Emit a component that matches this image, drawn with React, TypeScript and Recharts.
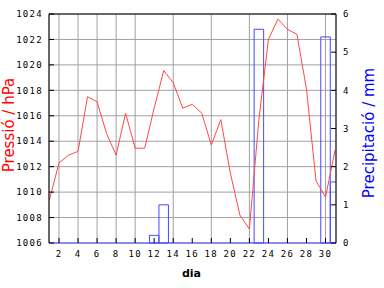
import { Bar, CartesianGrid, ComposedChart, Label, Line, XAxis, YAxis } from 'recharts';

const days = [1, 2, 3, 4, 5, 6, 7, 8, 9, 10, 11, 12, 13, 14, 15, 16, 17, 18, 19, 20, 21, 22, 23, 24, 25, 26, 27, 28, 29, 30, 31];
const pressure = [
  1009.4, 1012.3, 1012.9, 1013.2, 1017.5, 1017.1, 1014.6, 1012.9, 1016.2, 1013.45, 1013.45, 1016.6, 1019.55, 1018.6, 1016.6, 1016.9,
  1016.2, 1013.7, 1015.7, 1011.5, 1008.2, 1007.1, 1015.7, 1022.0, 1023.6, 1022.8, 1022.4, 1018.1, 1010.9, 1009.6, 1013.3,
];
const rain = [0, 0, 0, 0, 0, 0, 0, 0, 0, 0, 0, 0.2, 1.0, 0, 0, 0, 0, 0, 0, 0, 0, 0, 5.6, 0, 0, 0, 0, 0, 0, 5.4, 1.6];
const dayTicks = [2, 4, 6, 8, 10, 12, 14, 16, 18, 20, 22, 24, 26, 28, 30];
const pressureTicks = [1006, 1008, 1010, 1012, 1014, 1016, 1018, 1020, 1022, 1024];
const rainTicks = [0, 1, 2, 3, 4, 5, 6];

const data = days.map((day, i) => ({ day, pres: pressure[i], rain: rain[i] }));

const tickFont = { fill: '#000', fontSize: 9, fontFamily: 'DejaVu Sans Mono', letterSpacing: 1.3 };
const labelFont = { fontFamily: 'DejaVu Sans', fontSize: 15 };

export default function App() {
  return (
    <div style={{ position: 'absolute', left: 0, top: 0, width: 384, height: 288, background: '#fff' }}>
      <ComposedChart width={384} height={288} data={data} margin={{ top: 0, right: 0, bottom: 0, left: 0 }}>
        <CartesianGrid xAxisId="b" yAxisId="p" stroke="#a0a0a0" />
        <XAxis
          xAxisId="b"
          dataKey="day"
          type="number"
          domain={[0.95, 31.1]}
          ticks={dayTicks}
          allowDataOverflow
          height={45}
          tickSize={-5}
          tickMargin={13}
          axisLine={{ stroke: '#4848ff' }}
          tickLine={{ stroke: '#000' }}
          tick={tickFont}
        >
          <Label
            content={({ viewBox }: any) => (
              <text x={viewBox.x + viewBox.width / 2 - 1} y={276.5} textAnchor="middle" fontFamily="DejaVu Sans" fontWeight="bold" fontSize={11} fill="#000">
                dia
              </text>
            )}
          />
        </XAxis>
        <XAxis
          xAxisId="t"
          dataKey="day"
          type="number"
          orientation="top"
          domain={[0.95, 31.1]}
          ticks={dayTicks}
          allowDataOverflow
          height={14}
          tickSize={-5}
          tick={false}
          axisLine={{ stroke: '#000' }}
          tickLine={{ stroke: '#000' }}
        />
        <YAxis
          yAxisId="p"
          domain={[1006, 1024]}
          ticks={pressureTicks}
          width={49}
          tickSize={-5}
          tickMargin={11}
          axisLine={{ stroke: '#000' }}
          tickLine={{ stroke: '#000' }}
          tick={tickFont}
        >
          <Label
            content={() => (
              <text x={14} y={125} transform="rotate(-90, 14, 125)" textAnchor="middle" fill="#ff0000" {...labelFont}>
                Pressió / hPa
              </text>
            )}
          />
        </YAxis>
        <YAxis
          yAxisId="r"
          orientation="right"
          domain={[0, 6]}
          ticks={rainTicks}
          width={48}
          tickSize={-5}
          tickMargin={12}
          axisLine={{ stroke: '#000' }}
          tickLine={{ stroke: '#000' }}
          tick={tickFont}
        >
          <Label
            content={() => (
              <text x={374} y={133} transform="rotate(-90, 374, 133)" textAnchor="middle" fill="#0000ff" {...labelFont}>
                Precipitació / mm
              </text>
            )}
          />
        </YAxis>
        <Bar xAxisId="b" yAxisId="r" dataKey="rain" barSize={9.5} fill="none" stroke="#4848ff" strokeWidth={1} isAnimationActive={false} />
        <Line xAxisId="b" yAxisId="p" dataKey="pres" type="linear" stroke="#ff4848" strokeWidth={1} dot={false} isAnimationActive={false} />
      </ComposedChart>
    </div>
  );
}
